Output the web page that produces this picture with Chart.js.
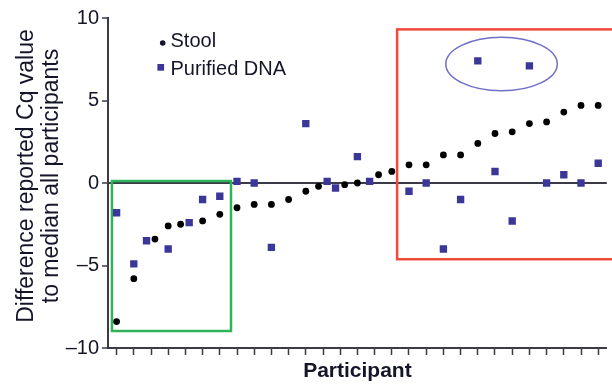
<!DOCTYPE html>
<html>
<head>
<meta charset="utf-8">
<script src="https://cdn.jsdelivr.net/npm/chart.js@4.4.1/dist/chart.umd.min.js"></script>
<style>
  body { margin: 0; background: #fff; }
  #wrap { width: 612px; height: 387px; }
</style>
</head>
<body>
<div id="wrap"><canvas id="myChart"></canvas></div>
<script>
// participants (one tick each)
const participants = [1, 2, 3, 4, 5, 6, 7, 8, 9, 10, 11, 12, 13, 14, 15, 16, 17, 18, 19, 20, 21, 22, 23, 24, 25, 26, 27, 28, 29];

// Stool: x position (small dodge where a DNA square sits on the same tick) and value
const stoolX = [1, 2, 3.23, 4, 4.72, 6, 7, 8, 9, 10, 11, 12, 12.74, 14.26, 15, 16.23, 17, 18, 19, 20, 21, 22, 23, 24, 25, 26, 27, 28, 29];
const stoolValues = [-8.4, -5.8, -3.4, -2.6, -2.5, -2.3, -1.9, -1.5, -1.3, -1.3, -1.0, -0.5, -0.2, -0.1, 0.0, 0.5, 0.7, 1.1, 1.1, 1.7, 1.7, 2.4, 3.0, 3.1, 3.6, 3.7, 4.3, 4.7, 4.7];

// Purified DNA (null = no result)
const dnaX = [1, 2, 2.74, 4, 5.22, 6, 7, 8, 9, 10, 11, 12, 13.24, 13.73, 15, 15.71, 17, 18, 19, 20, 21, 22, 23, 24, 25, 26, 27, 28, 29];
const dnaValues = [-1.8, -4.9, -3.5, -4.0, -2.4, -1.0, -0.8, 0.1, 0.0, -3.9, null, 3.6, 0.1, -0.3, 1.6, 0.1, null, -0.5, 0.0, -4.0, -1.0, 7.4, 0.7, -2.3, 7.1, 0.0, 0.5, 0.0, 1.2];

const yTicks = [-10, -5, 0, 5, 10];

// highlight shapes, in data units
const greenBox = { x1: 0.73, x2: 7.65, y1: 0.12, y2: -8.97 };
const redBox = { x1: 17.31, x2: 30.5, y1: 9.31, y2: -4.62 };
const outlierEllipse = { cx: 23.38, cy: 7.21, rx: 3.24, ry: 1.62 };

const FONT = "'Liberation Sans', Arial, sans-serif";
const AXIS = "#3a3a48";
const TEXT = "#15152a";
const DNA_COLOR = "#3b3799";

const stoolData = stoolX.map((x, i) => ({ x: x, y: stoolValues[i] }));
const dnaData = dnaX
  .map((x, i) => ({ x: x, y: dnaValues[i] }))
  .filter((d) => d.y !== null);

// boxes + ellipse under the points, legend and titles on top
const decorPlugin = {
  id: "decor",
  beforeDatasetsDraw(chart) {
    const { ctx, scales } = chart;
    const xs = scales.x, ys = scales.y;
    ctx.save();
    ctx.lineWidth = 2.5;

    ctx.strokeStyle = "#2fb35a";
    const gx1 = xs.getPixelForValue(greenBox.x1), gx2 = xs.getPixelForValue(greenBox.x2);
    const gy1 = ys.getPixelForValue(greenBox.y1), gy2 = ys.getPixelForValue(greenBox.y2);
    ctx.strokeRect(gx1, gy1, gx2 - gx1, gy2 - gy1);

    ctx.strokeStyle = "#f04a3a";
    const rx1 = xs.getPixelForValue(redBox.x1), rx2 = xs.getPixelForValue(redBox.x2);
    const ry1 = ys.getPixelForValue(redBox.y1), ry2 = ys.getPixelForValue(redBox.y2);
    ctx.strokeRect(rx1, ry1, rx2 - rx1, ry2 - ry1);

    ctx.strokeStyle = "#6f6fc8";
    ctx.lineWidth = 1.5;
    const ecx = xs.getPixelForValue(outlierEllipse.cx), ecy = ys.getPixelForValue(outlierEllipse.cy);
    const erx = Math.abs(xs.getPixelForValue(outlierEllipse.cx + outlierEllipse.rx) - ecx);
    const ery = Math.abs(ys.getPixelForValue(outlierEllipse.cy + outlierEllipse.ry) - ecy);
    ctx.beginPath();
    ctx.ellipse(ecx, ecy, erx, ery, 0, 0, Math.PI * 2);
    ctx.stroke();
    ctx.restore();
  },
  afterDraw(chart) {
    const { ctx, chartArea } = chart;
    ctx.save();
    ctx.fillStyle = TEXT;

    // legend
    ctx.font = "20px " + FONT;
    ctx.textAlign = "left";
    ctx.textBaseline = "alphabetic";
    ctx.beginPath();
    ctx.arc(162.7, 43, 2.8, 0, Math.PI * 2);
    ctx.fill();
    ctx.fillText("Stool", 170.5, 47);
    ctx.fillStyle = DNA_COLOR;
    ctx.fillRect(157.4, 64, 6.7, 6.7);
    ctx.fillStyle = TEXT;
    ctx.fillText("Purified DNA", 170.5, 74.7);

    // x title
    ctx.font = "bold 21px " + FONT;
    ctx.textAlign = "center";
    ctx.fillText("Participant", (chartArea.left + chartArea.right) / 2, 377);

    // y title (two lines, rotated)
    ctx.font = "23px " + FONT;
    ctx.translate(33, 176);
    ctx.rotate(-Math.PI / 2);
    ctx.fillText("Difference reported Cq value", 0, 0);
    ctx.fillText("to median all participants", 0, 25);
    ctx.restore();
  }
};

const ctx = document.getElementById("myChart").getContext("2d");
new Chart(ctx, {
  type: "scatter",
  data: {
    datasets: [
      {
        label: "Stool",
        data: stoolData,
        pointStyle: "circle",
        pointRadius: 3.4,
        pointBackgroundColor: "#000",
        pointBorderWidth: 0,
      },
      {
        label: "Purified DNA",
        data: dnaData,
        pointStyle: "rect",
        pointRadius: 5.2,
        pointBackgroundColor: DNA_COLOR,
        pointBorderWidth: 0,
      },
    ],
  },
  options: {
    responsive: true,
    maintainAspectRatio: false,
    animation: false,
    layout: { padding: { top: 18, right: 5, left: 0, bottom: 0 } },
    plugins: {
      legend: { display: false },
      tooltip: { enabled: false },
    },
    scales: {
      x: {
        type: "linear",
        min: 0.5,
        max: 29.5,
        afterBuildTicks: (s) => { s.ticks = participants.map((v) => ({ value: v })); },
        afterFit: (s) => { s.height = 39; },
        border: { display: true, color: AXIS, width: 2 },
        grid: { drawOnChartArea: false, drawTicks: true, tickLength: 7, tickColor: AXIS, tickWidth: 1.5 },
        ticks: { callback: () => "" },
      },
      y: {
        min: -10,
        max: 10,
        afterBuildTicks: (s) => { s.ticks = yTicks.map((v) => ({ value: v })); },
        afterFit: (s) => { s.width = 108; },
        border: { display: true, color: AXIS, width: 2 },
        grid: {
          drawOnChartArea: true,
          color: (c) => (c.tick && c.tick.value === 0 ? AXIS : "rgba(0,0,0,0)"),
          lineWidth: 2,
          drawTicks: true,
          tickLength: 6,
          tickColor: AXIS,
          tickWidth: 1.5,
        },
        ticks: {
          padding: 3,
          color: TEXT,
          font: { family: FONT, size: 20 },
          callback: (v) => (v < 0 ? "\u2013" + Math.abs(v) : String(v)),
        },
      },
    },
  },
  plugins: [decorPlugin],
});
</script>
</body>
</html>
